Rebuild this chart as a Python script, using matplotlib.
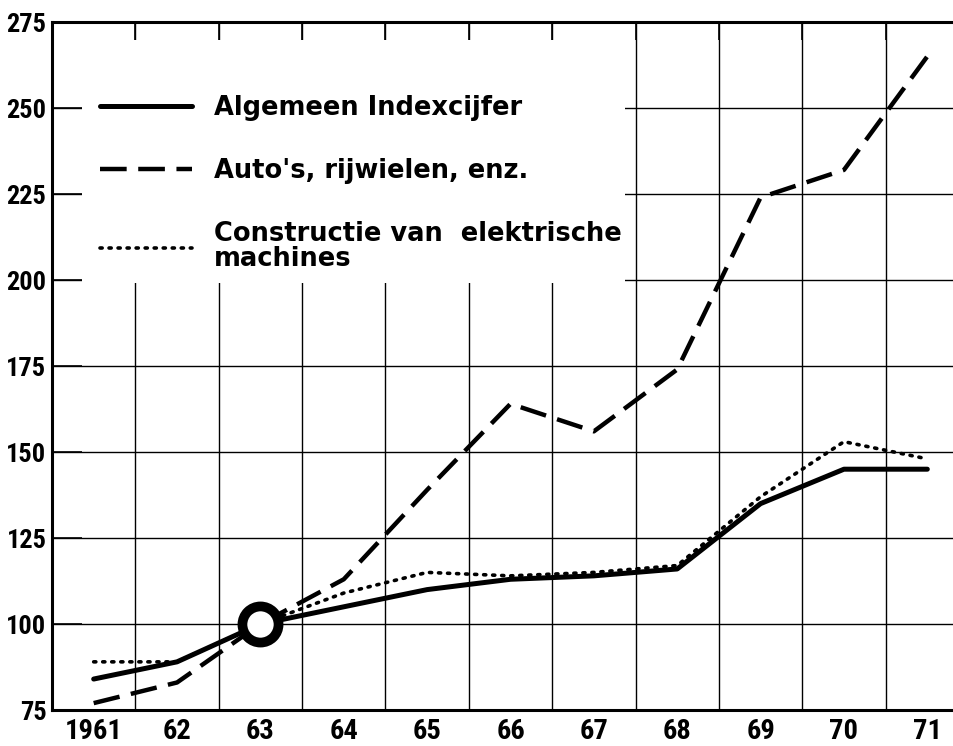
import matplotlib
matplotlib.use("Agg")
import matplotlib.pyplot as plt
from matplotlib import font_manager
from matplotlib.patches import Rectangle

# index 1963 = 100
years = [1961, 1962, 1963, 1964, 1965, 1966, 1967, 1968, 1969, 1970, 1971]
year_labels = ["1961", "62", "63", "64", "65", "66", "67", "68", "69", "70", "71"]
algemeen = [84, 89, 100, 105, 110, 113, 114, 116, 135, 145, 145]
autos = [77, 83, 100, 113, 139, 164, 156, 174, 224, 232, 265]
constructie = [89, 89, 100, 109, 115, 114, 115, 117, 137, 153, 148]
base_year = [1963]
base_value = [100]

labels = [
    "Algemeen Indexcijfer",
    "Auto's, rijwielen, enz.",
    "Constructie van  elektrische\nmachines",
]

# narrow font for the numbers, if there is one
installed = {f.name for f in font_manager.fontManager.ttflist}
narrow = [n for n in ["Liberation Sans Narrow", "DejaVu Sans Condensed",
                      "Roboto Condensed", "Open Sans Condensed"] if n in installed]
condensed_stretch = any(f.name == "DejaVu Sans" and f.stretch == "condensed"
                        for f in font_manager.fontManager.ttflist)
if narrow:
    tick_font, tick_stretch, xsize, ysize = narrow[0], "normal", 20.5, 19
elif condensed_stretch:
    tick_font, tick_stretch, xsize, ysize = "DejaVu Sans", "condensed", 17, 16
else:
    tick_font, tick_stretch, xsize, ysize = "DejaVu Sans", "normal", 15, 14.5

fig = plt.figure(figsize=(9.54, 7.46), dpi=100)
ax = fig.add_axes([52 / 954, 36 / 746, 902 / 954, 688 / 746])
ax.set_xlim(1960.5, 1971.32)
ax.set_ylim(75, 275)
ax.set_axisbelow(True)

ax.set_xticks(years, year_labels)
ax.set_xticks([y + 0.5 for y in years[:-1]], minor=True)
ax.set_yticks(range(75, 276, 25))
ax.grid(which="minor", axis="x", color="black", lw=1.0)
ax.grid(which="major", axis="y", color="black", lw=1.0)

ax.tick_params(axis="x", which="major", length=0, pad=6)
ax.tick_params(axis="x", which="minor", direction="in", top=True, bottom=False,
               length=13, width=1.2)
ax.tick_params(axis="y", which="major", direction="in", length=21.6, width=1.2, pad=4)
for lab in ax.get_xticklabels():
    lab.set_fontfamily(tick_font)
    lab.set_fontstretch(tick_stretch)
    lab.set_fontweight("bold")
    lab.set_fontsize(xsize)
for lab in ax.get_yticklabels():
    lab.set_fontfamily(tick_font)
    lab.set_fontstretch(tick_stretch)
    lab.set_fontweight("bold")
    lab.set_fontsize(ysize)

for side in ["top", "left", "bottom"]:
    ax.spines[side].set_linewidth(2.2)
ax.spines["right"].set_visible(False)

# blank area behind the legend
ax.add_patch(Rectangle((1960.86, 199), 6.51, 70.8, facecolor="white",
                       edgecolor="none", zorder=1))

ax.plot(years, algemeen, color="black", lw=3.6, solid_capstyle="round", zorder=3,
        label=labels[0])
ax.plot(years, autos, color="black", lw=3.2, dashes=(6, 2.6), zorder=3,
        label=labels[1])
ax.plot(years, constructie, color="black", lw=2.6, dashes=(0.6, 1.9),
        dash_capstyle="round", zorder=3, label=labels[2])
ax.plot(base_year, base_value, marker="o", markersize=26, markeredgewidth=7,
        markerfacecolor="white", markeredgecolor="black", linestyle="none", zorder=4)

leg = ax.legend(loc="upper left", bbox_to_anchor=(0.053, 0.894), frameon=False,
                prop={"family": "DejaVu Sans", "weight": "bold", "size": 18.5},
                handlelength=3.6, handletextpad=0.85, labelspacing=1.45,
                borderaxespad=0, borderpad=0)
leg.get_texts()[2].set_linespacing(0.95)

fig.savefig("out.png", dpi=100)
